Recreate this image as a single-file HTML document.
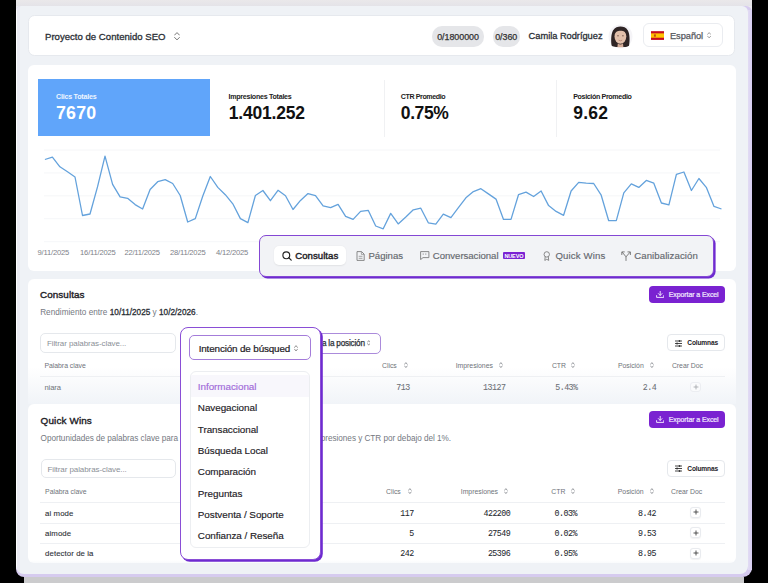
<!DOCTYPE html>
<html><head><meta charset="utf-8">
<style>
*{box-sizing:border-box;margin:0;padding:0}
html,body{width:768px;height:583px;overflow:hidden;background:#000;font-family:"Liberation Sans",sans-serif;color:#1f2328}
.a{position:absolute}
.t{position:absolute;white-space:nowrap;line-height:1}
.card{position:absolute;background:#fff;border-radius:8px}
</style></head><body>
<div class="a" style="left:16px;top:0px;width:736px;height:30px;background:#ebeaef"></div>
<div class="a" style="left:16px;top:0px;width:736px;height:6px;background:linear-gradient(#eae8ea,#e4e3e8)"></div>
<div class="a" style="left:24px;top:577px;width:720px;height:6px;background:#cbcbcd"></div>
<div class="a" style="left:16px;top:5.5px;width:736px;height:571.5px;background:#d6cbef;border-radius:5px 6px 9px 8px"></div>
<div class="a" style="left:16px;top:5.5px;width:732px;height:568px;background:linear-gradient(90deg,#fdfdfe 0,#fdfdfe 1px,#eae9f3 1px,#ecebf3 3.5px,#eff2f6 4px);border-radius:5px 6px 8px 8px"></div>
<div class="a" style="left:748px;top:10px;width:4px;height:560px;background:linear-gradient(90deg,#e2dcf3,#d8cff3)"></div>
<div class="a" style="left:28.3px;top:14.5px;width:706.7px;height:41.5px;background:#fff;border-radius:6.5px;border:1px solid #e6e9ee"></div>
<div class="t" style="left:45.00px;top:32.00px;font-size:9.6px;color:#2b2f36;-webkit-text-stroke:0.3px #2b2f36;">Proyecto de Contenido SEO</div>
<svg class="a" style="left:174px;top:32px" width="6" height="8.5" viewBox="0 0 6 8.5"><path d="M0.6 3.06 L3.00 0.6 L5.40 3.06 M0.6 5.44 L3.00 7.90 L5.40 5.44" fill="none" stroke="#666" stroke-width="0.9" stroke-linecap="round" stroke-linejoin="round"/></svg>
<div class="a" style="left:431.9px;top:26.3px;width:51.8px;height:20.3px;background:#e5e6e9;border-radius:10px"></div>
<div class="t" style="left:437.20px;top:33.00px;font-size:8.9px;color:#333;letter-spacing:-0.03px;-webkit-text-stroke:0.25px #333;">0/1800000</div>
<div class="a" style="left:492.6px;top:26.3px;width:27.2px;height:20.3px;background:#e5e6e9;border-radius:10px"></div>
<div class="t" style="left:495.20px;top:33.00px;font-size:8.9px;color:#333;letter-spacing:-0.05px;-webkit-text-stroke:0.25px #333;">0/360</div>
<div class="t" style="left:528.60px;top:32.00px;font-size:9.3px;color:#2b2f36;letter-spacing:-0.03px;-webkit-text-stroke:0.3px #2b2f36;">Camila Rodríguez</div>
<svg class="a" style="left:608px;top:24px" width="25" height="25" viewBox="0 0 25 25"><circle cx="12.5" cy="12.5" r="12" fill="#f5f4f7"/><path d="M3.6 21.6 C2.8 17 3 10 5 6.5 C7 3.2 9.8 2.6 12.5 2.6 C15.3 2.6 18.2 3.4 19.9 6.6 C21.8 10 22 16.5 21 21.8 C19.5 23 17 23.2 15.5 23 L9 23 C7 23.2 4.8 22.8 3.6 21.6 Z" fill="#2f2525"/><ellipse cx="12.4" cy="12.6" rx="5.9" ry="7.2" fill="#e2c0ab"/><path d="M6.4 9.5 C7 5.2 11 4.2 12.6 4.6 C14.6 4.2 18 5.4 18.5 9.5 C17 7.2 14.5 6.4 12.6 6.8 C10.5 6.4 8 7.4 6.4 9.5 Z" fill="#2f2525"/><path d="M9.2 11.8 h1.6 M14.1 11.8 h1.6" stroke="#5a3d35" stroke-width="0.8"/><path d="M10.6 16.2 Q12.4 17.4 14.2 16.2" fill="none" stroke="#b07a68" stroke-width="0.7"/><path d="M9.8 19.5 Q12.4 21.5 15 19.5 L15.4 23.2 H9.4 Z" fill="#d5ad98"/></svg>
<div class="a" style="left:642.6px;top:23.3px;width:80px;height:24.2px;background:#fff;border:1px solid #eaecf0;border-radius:6px"></div>
<svg class="a" style="left:650.8px;top:30.8px" width="13.6" height="9.1" viewBox="0 0 14 9"><rect width="14" height="9" fill="#c60b1e"/><rect y="2.25" width="14" height="4.5" fill="#ffc400"/><rect x="3" y="3.3" width="2" height="2.4" fill="#ad1519" opacity="0.7"/></svg>
<div class="t" style="left:669.90px;top:32.00px;font-size:9.3px;color:#55585e;letter-spacing:-0.05px;-webkit-text-stroke:0.25px #55585e;">Español</div>
<svg class="a" style="left:707px;top:32.3px" width="4.3" height="6.5" viewBox="0 0 4.3 6.5"><path d="M0.6 2.34 L2.15 0.6 L3.70 2.34 M0.6 4.16 L2.15 5.90 L3.70 4.16" fill="none" stroke="#8a8a8a" stroke-width="0.8" stroke-linecap="round" stroke-linejoin="round"/></svg>
<div class="a" style="left:28px;top:65px;width:708px;height:205.5px;background:#fff;border-radius:6px"></div>
<div class="a" style="left:38.2px;top:79.2px;width:172px;height:56.7px;background:#60a5fa"></div>
<div class="t" style="left:56.00px;top:94.00px;font-size:7.1px;color:#eef5ff;font-weight:700;letter-spacing:-0.22px;">Clics Totales</div>
<div class="t" style="left:56.00px;top:105.00px;font-size:17.8px;color:#fff;font-weight:700;letter-spacing:0.2px;">7670</div>
<div class="t" style="left:228.50px;top:94.00px;font-size:7.1px;color:#222;font-weight:700;letter-spacing:-0.27px;">Impresiones Totales</div>
<div class="t" style="left:228.80px;top:105.00px;font-size:17.5px;color:#111;font-weight:700;letter-spacing:-0.2px;">1.401.252</div>
<div class="a" style="left:383.5px;top:80px;width:1px;height:57px;background:#f0f1f3"></div>
<div class="t" style="left:400.80px;top:94.00px;font-size:7.1px;color:#222;font-weight:700;letter-spacing:-0.4px;">CTR Promedio</div>
<div class="t" style="left:400.80px;top:105.00px;font-size:17.5px;color:#111;font-weight:700;letter-spacing:-0.4px;">0.75%</div>
<div class="a" style="left:555.5px;top:80px;width:1px;height:57px;background:#f0f1f3"></div>
<div class="t" style="left:573.20px;top:94.00px;font-size:7.1px;color:#222;font-weight:700;letter-spacing:-0.35px;">Posición Promedio</div>
<div class="t" style="left:573.20px;top:105.00px;font-size:17.5px;color:#111;font-weight:700;letter-spacing:0.25px;">9.62</div>
<svg class="a" style="left:0;top:0" width="768" height="300" viewBox="0 0 768 300">
<g stroke="#f3f4f6" stroke-width="0.8">
<line x1="44" y1="150" x2="720" y2="150"/><line x1="44" y1="172.9" x2="720" y2="172.9"/><line x1="44" y1="195.8" x2="720" y2="195.8"/><line x1="44" y1="218.7" x2="720" y2="218.7"/><line x1="44" y1="241.7" x2="720" y2="241.7"/>
</g>
<polyline fill="none" stroke="#64a2dc" stroke-width="1.3" stroke-linejoin="round" points="44.9,159.5 52.4,157.2 59.9,166.8 67.5,171.8 75.0,177.0 82.5,215.5 90.0,214.0 97.5,186.9 105.0,156.1 112.6,184.3 120.1,196.8 127.6,198.3 135.1,204.6 142.6,209.0 150.1,189.5 157.7,181.7 165.2,179.6 172.7,183.5 180.2,195.5 187.7,222.0 195.3,218.6 202.8,196.0 210.3,176.5 217.8,187.4 225.3,194.7 232.8,203.8 240.4,218.6 247.9,222.6 255.4,195.5 262.9,190.5 270.4,200.7 278.0,190.3 285.5,195.7 293.0,209.5 300.5,200.4 308.0,193.6 315.5,195.7 323.1,205.9 330.6,207.7 338.1,204.3 345.6,216.3 353.1,219.4 360.6,211.4 368.2,210.3 375.7,226.0 383.2,228.8 390.7,213.4 398.2,223.9 405.8,217.0 413.3,209.8 420.8,208.2 428.3,222.8 435.8,224.1 443.3,214.2 450.9,217.6 458.4,207.7 465.9,197.8 473.4,191.6 480.9,188.7 488.4,193.9 496.0,199.1 503.5,219.4 511.0,219.4 518.5,194.7 526.0,192.1 533.6,196.5 541.1,191.0 548.6,205.6 556.1,211.4 563.6,215.3 571.1,191.0 578.7,182.4 586.2,183.2 593.7,183.5 601.2,195.2 608.7,220.7 616.3,220.7 623.8,192.9 631.3,183.8 638.8,187.4 646.3,180.4 653.8,183.2 661.4,203.0 668.9,204.8 676.4,174.4 683.9,172.0 691.4,190.5 698.9,178.5 706.5,187.7 714.0,206.4 721.5,209.0"/>
</svg>
<div class="t" style="left:37.60px;top:249.00px;font-size:7.6px;color:#7d8188;letter-spacing:-0.2px;">9/11/2025</div>
<div class="t" style="left:80.10px;top:249.00px;font-size:7.6px;color:#7d8188;letter-spacing:-0.2px;">16/11/2025</div>
<div class="t" style="left:124.40px;top:249.00px;font-size:7.6px;color:#7d8188;letter-spacing:-0.2px;">22/11/2025</div>
<div class="t" style="left:170.00px;top:249.00px;font-size:7.6px;color:#7d8188;letter-spacing:-0.2px;">28/11/2025</div>
<div class="t" style="left:216.00px;top:249.00px;font-size:7.6px;color:#7d8188;letter-spacing:-0.2px;">4/12/2025</div>
<div class="a" style="left:258.5px;top:235px;width:455.5px;height:41.5px;background:#f2f3f6;border-radius:7px;border:1.6px solid #8447d4;box-shadow:1.6px 1.6px 0 #6e2ad0"></div>
<div class="a" style="left:273.6px;top:246px;width:72.6px;height:18.6px;background:#fff;border-radius:5px;box-shadow:0 0.5px 1.5px rgba(0,0,0,0.07)"></div>
<svg class="a" style="left:281.5px;top:251px" width="10" height="10" viewBox="0 0 10 10"><circle cx="4.3" cy="4.3" r="3.4" fill="none" stroke="#222" stroke-width="1.15"/><path d="M6.9 6.9 L9.2 9.2" stroke="#222" stroke-width="1.2" stroke-linecap="round"/></svg>
<div class="t" style="left:295.20px;top:251.00px;font-size:9.6px;color:#1d2025;letter-spacing:0.05px;-webkit-text-stroke:0.4px #1d2025;">Consultas</div>
<svg class="a" style="left:356px;top:250.5px" width="9" height="10" viewBox="0 0 9 10"><path d="M1 0.6 H5.6 L8.2 3.2 V9.4 H1 Z" fill="none" stroke="#777" stroke-width="0.85" stroke-linejoin="round"/><path d="M5.4 0.8 V3.4 H8" fill="none" stroke="#888" stroke-width="0.7"/><path d="M2.7 5.3 H6.5 M2.7 7.3 H6.5" stroke="#888" stroke-width="0.75"/></svg>
<div class="t" style="left:368.40px;top:251.00px;font-size:9.6px;color:#64686e;-webkit-text-stroke:0.15px #64686e;">Páginas</div>
<svg class="a" style="left:420px;top:251.3px" width="9.5" height="9" viewBox="0 0 9.5 9"><path d="M0.6 0.6 H8.9 V6.6 H3 L0.6 8.6 Z" fill="none" stroke="#777" stroke-width="0.85" stroke-linejoin="round"/><path d="M3.2 2.4 V3.8 M5.8 2.4 V3.8" stroke="#888" stroke-width="0.8"/></svg>
<div class="t" style="left:432.80px;top:251.00px;font-size:9.6px;color:#64686e;letter-spacing:-0.03px;-webkit-text-stroke:0.15px #64686e;">Conversacional</div>
<div class="a" style="left:503px;top:251.8px;width:22.2px;height:7.4px;background:#7b22d3;border-radius:1px"></div>
<div class="t" style="left:504.40px;top:254.00px;font-size:5.5px;color:#fff;font-weight:700;letter-spacing:-0.12px;">NUEVO</div>
<svg class="a" style="left:543px;top:250.5px" width="7.5" height="10" viewBox="0 0 7.5 10"><circle cx="3.75" cy="3.4" r="2.7" fill="none" stroke="#777" stroke-width="0.85"/><path d="M2.2 5.6 L1.8 9.4 L3.75 8.3 L5.7 9.4 L5.3 5.6" fill="none" stroke="#777" stroke-width="0.85" stroke-linejoin="round"/></svg>
<div class="t" style="left:555.40px;top:251.00px;font-size:9.6px;color:#64686e;letter-spacing:0.15px;-webkit-text-stroke:0.15px #64686e;">Quick Wins</div>
<svg class="a" style="left:620.5px;top:250.5px" width="10.5" height="10" viewBox="0 0 10.5 10"><path d="M5 9.5 V5.8 L1.3 1.3 M5 5.8 L9 1.3" fill="none" stroke="#777" stroke-width="0.95" stroke-linecap="round"/><path d="M0.8 3.6 V0.9 H3.3 M6.9 0.9 H9.4 V3.6" fill="none" stroke="#777" stroke-width="0.95" stroke-linecap="round" stroke-linejoin="round"/></svg>
<div class="t" style="left:634.20px;top:251.00px;font-size:9.6px;color:#64686e;letter-spacing:0.09px;-webkit-text-stroke:0.15px #64686e;">Canibalización</div>
<div class="a" style="left:28px;top:279px;width:708px;height:125px;background:linear-gradient(#fff 0,#fff 88px,#f1f4f8 125px);border-radius:6px 6px 0 0"></div>
<div class="t" style="left:40.00px;top:290.00px;font-size:9.9px;color:#1d2025;letter-spacing:0.08px;-webkit-text-stroke:0.38px #1d2025;">Consultas</div>
<div class="t" style="left:40.20px;top:309.00px;font-size:8.2px;color:#74787f;letter-spacing:0.02px;">Rendimiento entre <b style="color:#2b2f36;-webkit-text-stroke:0.3px #2b2f36;font-weight:400">10/11/2025</b> y <b style="color:#2b2f36;-webkit-text-stroke:0.3px #2b2f36;font-weight:400">10/2/2026</b>.</div>
<div class="a" style="left:649.4px;top:285.9px;width:75.5px;height:17px;background:#7a22d1;border-radius:4px"></div>
<svg class="a" style="left:655.8px;top:290.9px" width="8.4" height="7" viewBox="0 0 8.4 7"><path d="M4.2 0.3 V4.3 M2.4 2.6 L4.2 4.4 L6 2.6 M0.6 4.6 V6.4 H7.8 V4.6" fill="none" stroke="#f3eaff" stroke-width="0.95" stroke-linecap="round" stroke-linejoin="round"/></svg>
<div class="t" style="left:668.80px;top:291.00px;font-size:7.0px;color:#f3eaff;letter-spacing:-0.1px;-webkit-text-stroke:0.2px #f3eaff;">Exportar a Excel</div>
<div class="a" style="left:40.1px;top:333.3px;width:135.6px;height:19.4px;background:#fff;border:1px solid #e5e8ec;border-radius:5px"></div>
<div class="t" style="left:46.90px;top:340.00px;font-size:8.0px;color:#8b9097;letter-spacing:-0.08px;">Filtrar palabras-clave...</div>
<div class="a" style="left:300px;top:333px;width:80.6px;height:20.8px;background:#fff;border:1.4px solid #ab8bdb;border-radius:5px"></div>
<div class="t" style="left:321.90px;top:340.00px;font-size:8.2px;color:#2b2f36;letter-spacing:-0.2px;-webkit-text-stroke:0.25px #2b2f36;">a la posición</div>
<svg class="a" style="left:366.6px;top:340.2px" width="3.4" height="5.8" viewBox="0 0 3.4 5.8"><path d="M0.6 2.09 L1.70 0.6 L2.80 2.09 M0.6 3.71 L1.70 5.20 L2.80 3.71" fill="none" stroke="#777" stroke-width="0.75" stroke-linecap="round" stroke-linejoin="round"/></svg>
<div class="a" style="left:667.3px;top:334.4px;width:57.6px;height:17px;background:#fff;border:1px solid #e5e8ec;border-radius:4px"></div>
<svg class="a" style="left:674.9px;top:339.59999999999997px" width="7" height="7" viewBox="0 0 7 7"><path d="M0 1 H7 M0 3.5 H7 M0 6 H7" stroke="#333" stroke-width="0.9"/><rect x="3.8" y="0.1" width="1.4" height="1.8" fill="#333"/><rect x="1.4" y="2.6" width="1.4" height="1.8" fill="#333"/><rect x="3.8" y="5.1" width="1.4" height="1.8" fill="#333"/></svg>
<div class="t" style="left:687.30px;top:340.00px;font-size:6.6px;color:#1d2025;font-weight:700;letter-spacing:-0.15px;">Columnas</div>
<div class="t" style="left:44.40px;top:363.00px;font-size:6.9px;color:#6f737a;letter-spacing:-0.03px;">Palabra clave</div>
<div class="t" style="left:382.00px;top:363.00px;font-size:6.9px;color:#6f737a;letter-spacing:-0.03px;">Clics</div>
<svg class="a" style="left:404.0px;top:362.4px" width="3.8" height="6.2" viewBox="0 0 3.8 6.2"><path d="M0.6 2.23 L1.90 0.6 L3.20 2.23 M0.6 3.97 L1.90 5.60 L3.20 3.97" fill="none" stroke="#80848a" stroke-width="0.8" stroke-linecap="round" stroke-linejoin="round"/></svg>
<div class="t" style="left:455.70px;top:363.00px;font-size:6.9px;color:#6f737a;letter-spacing:-0.03px;">Impresiones</div>
<svg class="a" style="left:499.40000000000003px;top:362.4px" width="3.8" height="6.2" viewBox="0 0 3.8 6.2"><path d="M0.6 2.23 L1.90 0.6 L3.20 2.23 M0.6 3.97 L1.90 5.60 L3.20 3.97" fill="none" stroke="#80848a" stroke-width="0.8" stroke-linecap="round" stroke-linejoin="round"/></svg>
<div class="t" style="left:551.90px;top:363.00px;font-size:6.9px;color:#6f737a;letter-spacing:-0.03px;">CTR</div>
<svg class="a" style="left:571.1999999999999px;top:362.4px" width="3.8" height="6.2" viewBox="0 0 3.8 6.2"><path d="M0.6 2.23 L1.90 0.6 L3.20 2.23 M0.6 3.97 L1.90 5.60 L3.20 3.97" fill="none" stroke="#80848a" stroke-width="0.8" stroke-linecap="round" stroke-linejoin="round"/></svg>
<div class="t" style="left:617.90px;top:363.00px;font-size:6.9px;color:#6f737a;letter-spacing:-0.03px;">Posición</div>
<svg class="a" style="left:650.1999999999999px;top:362.4px" width="3.8" height="6.2" viewBox="0 0 3.8 6.2"><path d="M0.6 2.23 L1.90 0.6 L3.20 2.23 M0.6 3.97 L1.90 5.60 L3.20 3.97" fill="none" stroke="#80848a" stroke-width="0.8" stroke-linecap="round" stroke-linejoin="round"/></svg>
<div class="t" style="left:671.90px;top:363.00px;font-size:6.9px;color:#6f737a;letter-spacing:-0.03px;">Crear Doc</div>
<div class="a" style="left:39.7px;top:376px;width:685px;height:0.8px;background:#eef0f3"></div>
<div class="t" style="left:44.40px;top:384.00px;font-size:7.6px;color:#6e7279;letter-spacing:-0.05px;">niara</div>
<div class="t" style="left:109.70px;width:300px;text-align:right;top:384.00px;font-size:8.3px;color:#6a6e74;letter-spacing:-0.5px;-webkit-text-stroke:0.05px #6a6e74;font-family:'Liberation Mono';">713</div>
<div class="t" style="left:205.40px;width:300px;text-align:right;top:384.00px;font-size:8.3px;color:#6a6e74;letter-spacing:-0.5px;-webkit-text-stroke:0.05px #6a6e74;font-family:'Liberation Mono';">13127</div>
<div class="t" style="left:277.60px;width:300px;text-align:right;top:384.00px;font-size:8.3px;color:#6a6e74;letter-spacing:-0.5px;-webkit-text-stroke:0.05px #6a6e74;font-family:'Liberation Mono';">5.43%</div>
<div class="t" style="left:356.30px;width:300px;text-align:right;top:384.00px;font-size:8.3px;color:#6a6e74;letter-spacing:-0.5px;-webkit-text-stroke:0.05px #6a6e74;font-family:'Liberation Mono';">2.4</div>
<div class="a" style="left:690.2px;top:382.3px;width:11.2px;height:10px;background:#fafbfc;border:1px solid #eceef2;border-radius:3px"></div>
<svg class="a" style="left:692.8px;top:384.4px" width="6" height="6" viewBox="0 0 6 6"><path d="M3 0.6 V5.4 M0.6 3 H5.4" stroke="#a3a6ab" stroke-width="0.85"/></svg>
<div class="a" style="left:28px;top:404px;width:707.5px;height:159px;background:linear-gradient(#fff 0,#fff 156px,#f3f6f9 162px);border-radius:6px"></div>
<div class="t" style="left:40.60px;top:416.00px;font-size:9.9px;color:#1d2025;letter-spacing:0.14px;-webkit-text-stroke:0.38px #1d2025;">Quick Wins</div>
<div class="t" style="left:40.60px;top:435.00px;font-size:8.2px;color:#74787f;letter-spacing:-0.04px;">Oportunidades de palabras clave para</div>
<div class="t" style="left:320.80px;top:435.00px;font-size:8.2px;color:#74787f;letter-spacing:-0.04px;">presiones y CTR por debajo del 1%.</div>
<div class="a" style="left:649.4px;top:411.3px;width:75.5px;height:17px;background:#7a22d1;border-radius:4px"></div>
<svg class="a" style="left:655.8px;top:416.3px" width="8.4" height="7" viewBox="0 0 8.4 7"><path d="M4.2 0.3 V4.3 M2.4 2.6 L4.2 4.4 L6 2.6 M0.6 4.6 V6.4 H7.8 V4.6" fill="none" stroke="#f3eaff" stroke-width="0.95" stroke-linecap="round" stroke-linejoin="round"/></svg>
<div class="t" style="left:668.80px;top:416.00px;font-size:7.0px;color:#f3eaff;letter-spacing:-0.1px;-webkit-text-stroke:0.2px #f3eaff;">Exportar a Excel</div>
<div class="a" style="left:40.6px;top:459px;width:135.2px;height:19.4px;background:#fff;border:1px solid #e5e8ec;border-radius:5px"></div>
<div class="t" style="left:47.40px;top:466.00px;font-size:8.0px;color:#8b9097;letter-spacing:-0.08px;">Filtrar palabras-clave...</div>
<div class="a" style="left:667.3px;top:460px;width:57.6px;height:17px;background:#fff;border:1px solid #e5e8ec;border-radius:4px"></div>
<svg class="a" style="left:674.9px;top:465.2px" width="7" height="7" viewBox="0 0 7 7"><path d="M0 1 H7 M0 3.5 H7 M0 6 H7" stroke="#333" stroke-width="0.9"/><rect x="3.8" y="0.1" width="1.4" height="1.8" fill="#333"/><rect x="1.4" y="2.6" width="1.4" height="1.8" fill="#333"/><rect x="3.8" y="5.1" width="1.4" height="1.8" fill="#333"/></svg>
<div class="t" style="left:687.30px;top:466.00px;font-size:6.6px;color:#1d2025;font-weight:700;letter-spacing:-0.15px;">Columnas</div>
<div class="t" style="left:45.10px;top:489.00px;font-size:6.9px;color:#6f737a;letter-spacing:-0.03px;">Palabra clave</div>
<div class="t" style="left:386.00px;top:489.00px;font-size:6.9px;color:#6f737a;letter-spacing:-0.03px;">Clics</div>
<svg class="a" style="left:408.0px;top:488.3px" width="3.8" height="6.2" viewBox="0 0 3.8 6.2"><path d="M0.6 2.23 L1.90 0.6 L3.20 2.23 M0.6 3.97 L1.90 5.60 L3.20 3.97" fill="none" stroke="#80848a" stroke-width="0.8" stroke-linecap="round" stroke-linejoin="round"/></svg>
<div class="t" style="left:460.75px;top:489.00px;font-size:6.9px;color:#6f737a;letter-spacing:-0.03px;">Impresiones</div>
<svg class="a" style="left:504.40000000000003px;top:488.3px" width="3.8" height="6.2" viewBox="0 0 3.8 6.2"><path d="M0.6 2.23 L1.90 0.6 L3.20 2.23 M0.6 3.97 L1.90 5.60 L3.20 3.97" fill="none" stroke="#80848a" stroke-width="0.8" stroke-linecap="round" stroke-linejoin="round"/></svg>
<div class="t" style="left:551.30px;top:489.00px;font-size:6.9px;color:#6f737a;letter-spacing:-0.03px;">CTR</div>
<svg class="a" style="left:571.1999999999999px;top:488.3px" width="3.8" height="6.2" viewBox="0 0 3.8 6.2"><path d="M0.6 2.23 L1.90 0.6 L3.20 2.23 M0.6 3.97 L1.90 5.60 L3.20 3.97" fill="none" stroke="#80848a" stroke-width="0.8" stroke-linecap="round" stroke-linejoin="round"/></svg>
<div class="t" style="left:617.80px;top:489.00px;font-size:6.9px;color:#6f737a;letter-spacing:-0.03px;">Posición</div>
<svg class="a" style="left:650.4px;top:488.3px" width="3.8" height="6.2" viewBox="0 0 3.8 6.2"><path d="M0.6 2.23 L1.90 0.6 L3.20 2.23 M0.6 3.97 L1.90 5.60 L3.20 3.97" fill="none" stroke="#80848a" stroke-width="0.8" stroke-linecap="round" stroke-linejoin="round"/></svg>
<div class="t" style="left:671.00px;top:489.00px;font-size:6.9px;color:#6f737a;letter-spacing:-0.03px;">Crear Doc</div>
<div class="a" style="left:39.7px;top:502px;width:685.5px;height:0.8px;background:#eef0f3"></div>
<div class="a" style="left:39.7px;top:522.9px;width:685.5px;height:0.8px;background:#eef0f3"></div>
<div class="a" style="left:39.7px;top:543.3px;width:685.5px;height:0.8px;background:#eef0f3"></div>
<div class="t" style="left:45.10px;top:510.00px;font-size:7.8px;color:#2b2f36;letter-spacing:0.08px;-webkit-text-stroke:0.1px #2b2f36;">ai mode</div>
<div class="t" style="left:113.70px;width:300px;text-align:right;top:510.00px;font-size:8.3px;color:#22262c;letter-spacing:-0.5px;-webkit-text-stroke:0.04px #22262c;font-family:'Liberation Mono';">117</div>
<div class="t" style="left:210.30px;width:300px;text-align:right;top:510.00px;font-size:8.3px;color:#22262c;letter-spacing:-0.5px;-webkit-text-stroke:0.04px #22262c;font-family:'Liberation Mono';">422200</div>
<div class="t" style="left:277.00px;width:300px;text-align:right;top:510.00px;font-size:8.3px;color:#22262c;letter-spacing:-0.5px;-webkit-text-stroke:0.04px #22262c;font-family:'Liberation Mono';">0.03%</div>
<div class="t" style="left:356.00px;width:300px;text-align:right;top:510.00px;font-size:8.3px;color:#22262c;letter-spacing:-0.5px;-webkit-text-stroke:0.04px #22262c;font-family:'Liberation Mono';">8.42</div>
<div class="a" style="left:690.2px;top:506.9px;width:11.2px;height:11px;background:#fff;border:1px solid #e9ebef;border-radius:3px;box-shadow:0 0.5px 1px rgba(0,0,0,0.05)"></div>
<svg class="a" style="left:692.8px;top:509.40px" width="6" height="6" viewBox="0 0 6 6"><path d="M3 0.5 V5.5 M0.5 3 H5.5" stroke="#444" stroke-width="0.9"/></svg>
<div class="t" style="left:45.10px;top:530.00px;font-size:7.8px;color:#2b2f36;letter-spacing:0.08px;-webkit-text-stroke:0.1px #2b2f36;">aimode</div>
<div class="t" style="left:113.70px;width:300px;text-align:right;top:530.00px;font-size:8.3px;color:#22262c;letter-spacing:-0.5px;-webkit-text-stroke:0.04px #22262c;font-family:'Liberation Mono';">5</div>
<div class="t" style="left:210.30px;width:300px;text-align:right;top:530.00px;font-size:8.3px;color:#22262c;letter-spacing:-0.5px;-webkit-text-stroke:0.04px #22262c;font-family:'Liberation Mono';">27549</div>
<div class="t" style="left:277.00px;width:300px;text-align:right;top:530.00px;font-size:8.3px;color:#22262c;letter-spacing:-0.5px;-webkit-text-stroke:0.04px #22262c;font-family:'Liberation Mono';">0.02%</div>
<div class="t" style="left:356.00px;width:300px;text-align:right;top:530.00px;font-size:8.3px;color:#22262c;letter-spacing:-0.5px;-webkit-text-stroke:0.04px #22262c;font-family:'Liberation Mono';">9.53</div>
<div class="a" style="left:690.2px;top:527.35px;width:11.2px;height:11px;background:#fff;border:1px solid #e9ebef;border-radius:3px;box-shadow:0 0.5px 1px rgba(0,0,0,0.05)"></div>
<svg class="a" style="left:692.8px;top:529.85px" width="6" height="6" viewBox="0 0 6 6"><path d="M3 0.5 V5.5 M0.5 3 H5.5" stroke="#444" stroke-width="0.9"/></svg>
<div class="t" style="left:45.10px;top:550.00px;font-size:7.8px;color:#2b2f36;letter-spacing:0.08px;-webkit-text-stroke:0.1px #2b2f36;">detector de ia</div>
<div class="t" style="left:113.70px;width:300px;text-align:right;top:550.00px;font-size:8.3px;color:#22262c;letter-spacing:-0.5px;-webkit-text-stroke:0.04px #22262c;font-family:'Liberation Mono';">242</div>
<div class="t" style="left:210.30px;width:300px;text-align:right;top:550.00px;font-size:8.3px;color:#22262c;letter-spacing:-0.5px;-webkit-text-stroke:0.04px #22262c;font-family:'Liberation Mono';">25396</div>
<div class="t" style="left:277.00px;width:300px;text-align:right;top:550.00px;font-size:8.3px;color:#22262c;letter-spacing:-0.5px;-webkit-text-stroke:0.04px #22262c;font-family:'Liberation Mono';">0.95%</div>
<div class="t" style="left:356.00px;width:300px;text-align:right;top:550.00px;font-size:8.3px;color:#22262c;letter-spacing:-0.5px;-webkit-text-stroke:0.04px #22262c;font-family:'Liberation Mono';">8.95</div>
<div class="a" style="left:690.2px;top:547.8px;width:11.2px;height:11px;background:#fff;border:1px solid #e9ebef;border-radius:3px;box-shadow:0 0.5px 1px rgba(0,0,0,0.05)"></div>
<svg class="a" style="left:692.8px;top:550.30px" width="6" height="6" viewBox="0 0 6 6"><path d="M3 0.5 V5.5 M0.5 3 H5.5" stroke="#444" stroke-width="0.9"/></svg>
<div class="a" style="left:180px;top:326.6px;width:141px;height:233px;background:#fff;border-radius:8px;border:1.7px solid #8a4ed6;box-shadow:1.8px 1.8px 0 #6e2ad0"></div>
<div class="a" style="left:189.2px;top:335.2px;width:121.8px;height:25.2px;background:#fff;border:1.4px solid #a47cda;border-radius:5px"></div>
<div class="t" style="left:198.70px;top:344.00px;font-size:9.9px;color:#1d2025;letter-spacing:-0.15px;-webkit-text-stroke:0.2px #1d2025;">Intención de búsqued</div>
<svg class="a" style="left:293.8px;top:344.5px" width="4" height="6.6" viewBox="0 0 4 6.6"><path d="M0.6 2.38 L2.00 0.6 L3.40 2.38 M0.6 4.22 L2.00 6.00 L3.40 4.22" fill="none" stroke="#777" stroke-width="0.8" stroke-linecap="round" stroke-linejoin="round"/></svg>
<div class="a" style="left:190.4px;top:370.5px;width:120px;height:177.6px;background:#fff;border:1px solid #eceef1;border-radius:6px"></div>
<div class="a" style="left:191.4px;top:375.3px;width:118px;height:21.5px;background:#f8f7fc"></div>
<div class="t" style="left:197.80px;top:382.00px;font-size:9.9px;color:#a06ad9;letter-spacing:-0.05px;-webkit-text-stroke:0.15px #a06ad9;">Informacional</div>
<div class="t" style="left:197.80px;top:403.00px;font-size:9.9px;color:#1d2025;letter-spacing:-0.05px;-webkit-text-stroke:0.15px #1d2025;">Navegacional</div>
<div class="t" style="left:197.80px;top:425.00px;font-size:9.9px;color:#1d2025;letter-spacing:-0.05px;-webkit-text-stroke:0.15px #1d2025;">Transaccional</div>
<div class="t" style="left:197.80px;top:446.00px;font-size:9.9px;color:#1d2025;letter-spacing:-0.05px;-webkit-text-stroke:0.15px #1d2025;">Búsqueda Local</div>
<div class="t" style="left:197.80px;top:467.00px;font-size:9.9px;color:#1d2025;letter-spacing:-0.05px;-webkit-text-stroke:0.15px #1d2025;">Comparación</div>
<div class="t" style="left:197.80px;top:489.00px;font-size:9.9px;color:#1d2025;letter-spacing:-0.05px;-webkit-text-stroke:0.15px #1d2025;">Preguntas</div>
<div class="t" style="left:197.80px;top:510.00px;font-size:9.9px;color:#1d2025;letter-spacing:-0.05px;-webkit-text-stroke:0.15px #1d2025;">Postventa / Soporte</div>
<div class="t" style="left:197.80px;top:531.00px;font-size:9.9px;color:#1d2025;letter-spacing:-0.05px;-webkit-text-stroke:0.15px #1d2025;">Confianza / Reseña</div>
</body></html>
